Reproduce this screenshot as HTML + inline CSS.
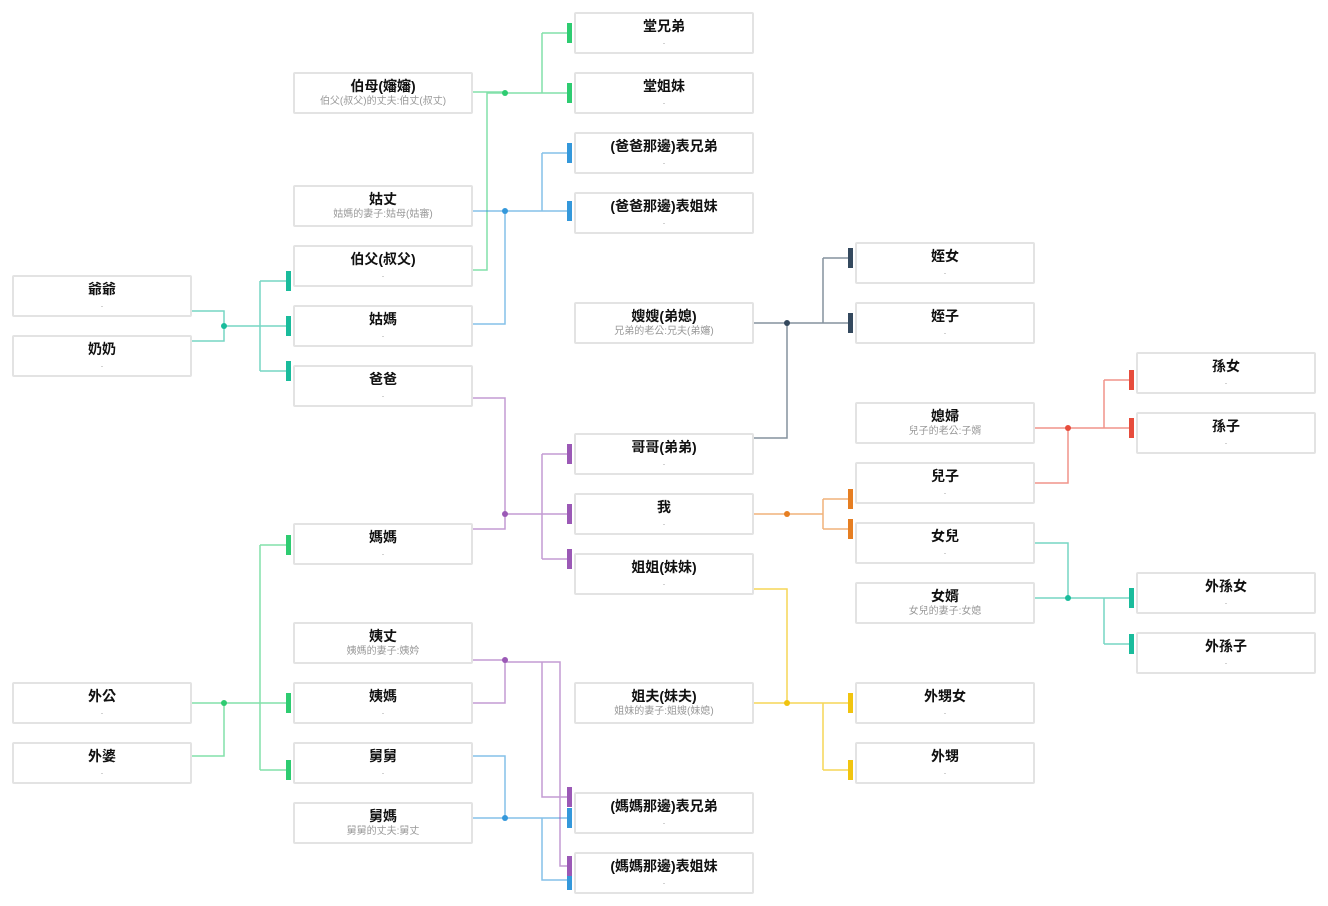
<!DOCTYPE html>
<html><head><meta charset="utf-8"><style>
body{margin:0;width:1328px;height:906px;background:#fff;position:relative;overflow:hidden;font-family:"Liberation Sans","Noto Sans CJK TC",sans-serif}
.b{position:absolute;width:180px;height:42px;border:2px solid #e3e3e3;border-radius:2px;background:#fff;text-align:center;box-sizing:border-box}
.t{font-size:14px;font-weight:bold;color:#111;margin-top:3px;line-height:18px}
.s{font-size:10px;color:#999;line-height:12px;margin-top:1px}
.d{font-size:9px;color:#999;line-height:10px;margin-top:1px}
svg{position:absolute;left:0;top:0}
</style></head><body>
<svg width="1328" height="906" fill="none" stroke-width="1.5">
<g stroke="#1abc9c" stroke-opacity=".6">
<path d="M192 311H224V341H192M224 326H260M260 281V371M260 281H289M260 326H289M260 371H289"/>
<path d="M1035 543H1068V598H1035M1068 598H1104M1104 598V644M1104 598H1132M1104 644H1132"/>
</g>
<g stroke="#2ecc71" stroke-opacity=".6">
<path d="M473 92H505M473 270H487V93H542M542 33V93M542 33H570M542 93H570"/>
<path d="M192 703H224V756H192M224 703H260M260 545V770M260 545H289M260 703H289M260 770H289"/>
</g>
<g stroke="#3498db" stroke-opacity=".6">
<path d="M473 211H542M473 324H505V211M542 153V211M542 153H570M542 211H570"/>
<path d="M473 756H505V818H473M505 818H570M542 818V880H570"/>
</g>
<g stroke="#9b59b6" stroke-opacity=".6">
<path d="M473 398H505V529H473M505 514H542M542 454V559M542 454H570M542 514H570M542 559H570"/>
<path d="M473 660H505V703H473M505 662H560V866H570M542 662V797H570"/>
</g>
<g stroke="#34495e" stroke-opacity=".6"><path d="M754 438H787V323H754M787 323H823M823 258V323M823 258H851M823 323H851"/></g>
<g stroke="#e67e22" stroke-opacity=".6"><path d="M754 514H823M823 499V529M823 499H851M823 529H851"/></g>
<g stroke="#e74c3c" stroke-opacity=".6"><path d="M1035 428H1104M1035 483H1068V428M1104 380V428M1104 380H1132M1104 428H1132"/></g>
<g stroke="#f1c40f" stroke-opacity=".7"><path d="M754 589H787V703H754M787 703H823M823 703V770M823 703H851M823 770H851"/></g>
<g stroke="none">
<circle cx="224" cy="326" r="3" fill="#1abc9c"/><circle cx="1068" cy="598" r="3" fill="#1abc9c"/>
<circle cx="505" cy="93" r="3" fill="#2ecc71"/><circle cx="224" cy="703" r="3" fill="#2ecc71"/>
<circle cx="505" cy="211" r="3" fill="#3498db"/><circle cx="505" cy="818" r="3" fill="#3498db"/>
<circle cx="505" cy="514" r="3" fill="#9b59b6"/><circle cx="505" cy="660" r="3" fill="#9b59b6"/>
<circle cx="787" cy="323" r="3" fill="#34495e"/><circle cx="787" cy="514" r="3" fill="#e67e22"/>
<circle cx="1068" cy="428" r="3" fill="#e74c3c"/><circle cx="787" cy="703" r="3" fill="#f1c40f"/>
<g fill="#1abc9c"><rect x="286" y="271" width="5" height="20"/><rect x="286" y="316" width="5" height="20"/><rect x="286" y="361" width="5" height="20"/><rect x="1129" y="588" width="5" height="20"/><rect x="1129" y="634" width="5" height="20"/></g>
<g fill="#2ecc71"><rect x="567" y="23" width="5" height="20"/><rect x="567" y="83" width="5" height="20"/><rect x="286" y="535" width="5" height="20"/><rect x="286" y="693" width="5" height="20"/><rect x="286" y="760" width="5" height="20"/></g>
<g fill="#3498db"><rect x="567" y="143" width="5" height="20"/><rect x="567" y="201" width="5" height="20"/><rect x="567" y="808" width="5" height="20"/><rect x="567" y="870" width="5" height="20"/></g>
<g fill="#9b59b6"><rect x="567" y="444" width="5" height="20"/><rect x="567" y="504" width="5" height="20"/><rect x="567" y="549" width="5" height="20"/><rect x="567" y="787" width="5" height="20"/><rect x="567" y="856" width="5" height="20"/></g>
<g fill="#34495e"><rect x="848" y="248" width="5" height="20"/><rect x="848" y="313" width="5" height="20"/></g>
<g fill="#e67e22"><rect x="848" y="489" width="5" height="20"/><rect x="848" y="519" width="5" height="20"/></g>
<g fill="#e74c3c"><rect x="1129" y="370" width="5" height="20"/><rect x="1129" y="418" width="5" height="20"/></g>
<g fill="#f1c40f"><rect x="848" y="693" width="5" height="20"/><rect x="848" y="760" width="5" height="20"/></g>
</g>
</svg>
<div class="b" style="left:12px;top:275px"><div class="t">爺爺</div><div class="d">.</div></div>
<div class="b" style="left:12px;top:335px"><div class="t">奶奶</div><div class="d">.</div></div>
<div class="b" style="left:12px;top:682px"><div class="t">外公</div><div class="d">.</div></div>
<div class="b" style="left:12px;top:742px"><div class="t">外婆</div><div class="d">.</div></div>
<div class="b" style="left:293px;top:72px"><div class="t">伯母(嬸嬸)</div><div class="s">伯父(叔父)的丈夫:伯丈(叔丈)</div></div>
<div class="b" style="left:293px;top:185px"><div class="t">姑丈</div><div class="s">姑媽的妻子:姑母(姑審)</div></div>
<div class="b" style="left:293px;top:245px"><div class="t">伯父(叔父)</div><div class="d">.</div></div>
<div class="b" style="left:293px;top:305px"><div class="t">姑媽</div><div class="d">.</div></div>
<div class="b" style="left:293px;top:365px"><div class="t">爸爸</div><div class="d">.</div></div>
<div class="b" style="left:293px;top:523px"><div class="t">媽媽</div><div class="d">.</div></div>
<div class="b" style="left:293px;top:622px"><div class="t">姨丈</div><div class="s">姨媽的妻子:姨妗</div></div>
<div class="b" style="left:293px;top:682px"><div class="t">姨媽</div><div class="d">.</div></div>
<div class="b" style="left:293px;top:742px"><div class="t">舅舅</div><div class="d">.</div></div>
<div class="b" style="left:293px;top:802px"><div class="t">舅媽</div><div class="s">舅舅的丈夫:舅丈</div></div>
<div class="b" style="left:574px;top:12px"><div class="t">堂兄弟</div><div class="d">.</div></div>
<div class="b" style="left:574px;top:72px"><div class="t">堂姐妹</div><div class="d">.</div></div>
<div class="b" style="left:574px;top:132px"><div class="t">(爸爸那邊)表兄弟</div><div class="d">.</div></div>
<div class="b" style="left:574px;top:192px"><div class="t">(爸爸那邊)表姐妹</div><div class="d">.</div></div>
<div class="b" style="left:574px;top:302px"><div class="t">嫂嫂(弟媳)</div><div class="s">兄弟的老公:兄夫(弟嬸)</div></div>
<div class="b" style="left:574px;top:433px"><div class="t">哥哥(弟弟)</div><div class="d">.</div></div>
<div class="b" style="left:574px;top:493px"><div class="t">我</div><div class="d">.</div></div>
<div class="b" style="left:574px;top:553px"><div class="t">姐姐(妹妹)</div><div class="d">.</div></div>
<div class="b" style="left:574px;top:682px"><div class="t">姐夫(妹夫)</div><div class="s">姐妹的妻子:姐嫂(妹媳)</div></div>
<div class="b" style="left:574px;top:792px"><div class="t">(媽媽那邊)表兄弟</div><div class="d">.</div></div>
<div class="b" style="left:574px;top:852px"><div class="t">(媽媽那邊)表姐妹</div><div class="d">.</div></div>
<div class="b" style="left:855px;top:242px"><div class="t">姪女</div><div class="d">.</div></div>
<div class="b" style="left:855px;top:302px"><div class="t">姪子</div><div class="d">.</div></div>
<div class="b" style="left:855px;top:402px"><div class="t">媳婦</div><div class="s">兒子的老公:子婿</div></div>
<div class="b" style="left:855px;top:462px"><div class="t">兒子</div><div class="d">.</div></div>
<div class="b" style="left:855px;top:522px"><div class="t">女兒</div><div class="d">.</div></div>
<div class="b" style="left:855px;top:582px"><div class="t">女婿</div><div class="s">女兒的妻子:女媳</div></div>
<div class="b" style="left:855px;top:682px"><div class="t">外甥女</div><div class="d">.</div></div>
<div class="b" style="left:855px;top:742px"><div class="t">外甥</div><div class="d">.</div></div>
<div class="b" style="left:1136px;top:352px"><div class="t">孫女</div><div class="d">.</div></div>
<div class="b" style="left:1136px;top:412px"><div class="t">孫子</div><div class="d">.</div></div>
<div class="b" style="left:1136px;top:572px"><div class="t">外孫女</div><div class="d">.</div></div>
<div class="b" style="left:1136px;top:632px"><div class="t">外孫子</div><div class="d">.</div></div>
</body></html>
